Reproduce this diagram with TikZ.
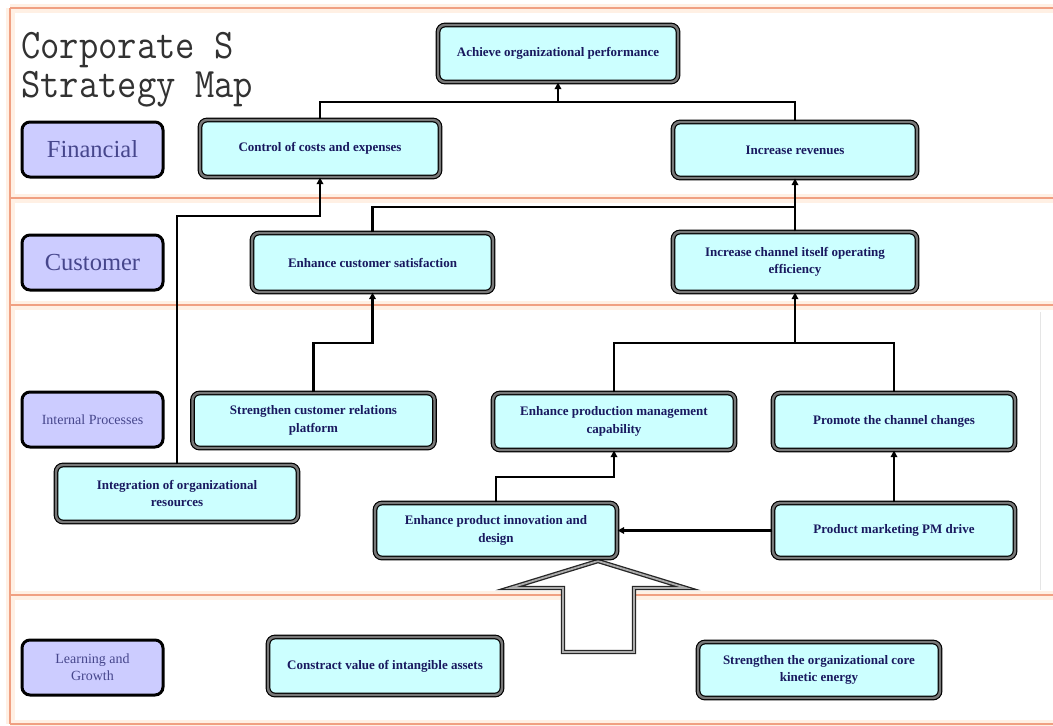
\documentclass[tikz,border=0pt]{standalone}
\usepackage{fontspec}
\setmainfont{Liberation Serif}
\usetikzlibrary{arrows.meta}
\definecolor{boxcyan}{RGB}{204,255,255}
\definecolor{lav}{RGB}{204,204,255}
\definecolor{navy}{RGB}{25,25,95}
\definecolor{labtxt}{RGB}{70,70,140}
\definecolor{salmon}{RGB}{240,160,130}
\definecolor{peach}{RGB}{255,240,228}
\definecolor{bordergray}{RGB}{120,120,120}
\definecolor{titlegray}{RGB}{50,50,50}
\tikzset{
  cbox/.style={rectangle, rounded corners=7pt, fill=boxcyan, draw=black, line width=1.2pt,
    double=bordergray, double distance=2.4pt, font=\fontsize{13}{17.5}\selectfont\bfseries,
    text=navy, align=center, inner sep=0pt, minimum width=242pt, minimum height=57pt},
  lbox/.style={rectangle, rounded corners=8pt, fill=lav, draw=black, line width=3pt,
    text=labtxt, align=center, inner sep=0pt, minimum width=141pt, minimum height=55pt},
  biglab/.style={font=\fontsize{24.5}{28}\selectfont},
  smalllab/.style={font=\fontsize{14}{17}\selectfont},
  conn/.style={line width=2.3pt, black},
  arr/.style={conn, -{Triangle[length=6.5pt,width=6.5pt]}},
  sepline/.style={salmon, line width=2.5pt},
  sephalo/.style={peach, line width=9pt},
  titletext/.style={anchor=base west, inner sep=0pt, text=titlegray,
    font=\ttfamily\fontsize{37.5}{44}\selectfont},
  hollowarrow/.style={fill=white, draw=black!85, line width=1.3pt, double=gray!65,
    double distance=1.8pt, line join=miter},
}
\begin{document}
\begin{tikzpicture}[x=1pt,y=-1pt]
\useasboundingbox (0,0) rectangle (1053,726);
\fill[white] (0,0) rectangle (1053,726);
% frame and separators
\foreach \yy in {8,198,305,595,724} {\draw[sephalo] (10,\yy) -- (1053,\yy);}
\draw[sephalo] (10,8) -- (10,724);
\foreach \yy in {8,198,305,595,724} {\draw[sepline] (10,\yy) -- (1053,\yy);}
\draw[sepline] (10,8) -- (10,724);
\draw[gray!20, line width=1pt] (1040,312) -- (1040,590);
% title
\node[titletext] (t1) at (21,58) {\scalebox{1}[1.12]{Corporate S}};
\node[titletext] (t2) at (21,97) {\scalebox{1}[1.12]{Strategy Map}};
% perspective labels
\node[lbox, biglab] (lf) at (92.5,149.5) {Financial};
\node[lbox, biglab] (lc) at (92.5,262.5) {Customer};
\node[lbox, smalllab] (li) at (92.5,419.5) {Internal Processes};
\node[lbox, smalllab] (ll) at (92.5,667.5) {Learning and\\Growth};
% big hollow arrow
\draw[hollowarrow] (598,561) -- (686,588) -- (634,588) -- (634,652) -- (563,652)
  -- (563,588) -- (510,588) -- cycle;
% objective boxes
\node[cbox, minimum width=240pt] (ach) at (558,53.5) {Achieve organizational performance};
\node[cbox, minimum width=240pt] (ctl) at (320,148.5) {Control of costs and expenses};
\node[cbox, minimum width=244pt, minimum height=56pt] (rev) at (795,150) {Increase revenues};
\node[cbox, minimum width=241pt, minimum height=59pt] (sat) at (372.5,262.5) {Enhance customer satisfaction};
\node[cbox, minimum width=244pt, minimum height=60pt] (eff) at (795,262) {Increase channel itself operating\\efficiency};
\node[cbox, minimum height=55pt] (crp) at (313.5,420.5) {Strengthen customer relations\\platform};
\node[cbox] (int) at (177,493.5) {Integration of organizational\\resources};
\node[cbox] (prd) at (614,421.5) {Enhance production management\\capability};
\node[cbox] (prm) at (894,421.5) {Promote the channel changes};
\node[cbox, minimum height=55pt] (inv) at (496,530.5) {Enhance product innovation and\\design};
\node[cbox, minimum height=55pt] (pmd) at (894,530.5) {Product marketing PM drive};
\node[cbox, minimum width=234pt, minimum height=58pt] (cva) at (385,666) {Constract value of intangible assets};
\node[cbox, minimum height=56pt] (core) at (819,670) {Strengthen the organizational core\\kinetic energy};
% junction coordinates
\coordinate (j1) at (558,102);
\coordinate (j2) at (795,207);
\coordinate (k3) at (177,216);
\coordinate (k4) at (313.5,343);
\coordinate (j5) at (795,343);
\coordinate (k6) at (496,477);
% connectors
\draw[conn] (ctl.north) |- (j1) -| (rev.north);
\draw[arr] (j1) -- (ach.south);
\draw[conn] (sat.north) |- (j2);
\draw[arr] (eff.north) -- (rev.south);
\draw[arr] (int.north) -- (k3) -| (ctl.south);
\draw[arr] (crp.north) -- (k4) -| (sat.south);
\draw[conn] (prd.north) |- (j5) -| (prm.north);
\draw[arr] (j5) -- (eff.south);
\draw[arr] (inv.north) -- (k6) -| (prd.south);
\draw[arr] (pmd.west) -- (inv.east);
\draw[arr] (pmd.north) -- (prm.south);
\end{tikzpicture}
\end{document}
